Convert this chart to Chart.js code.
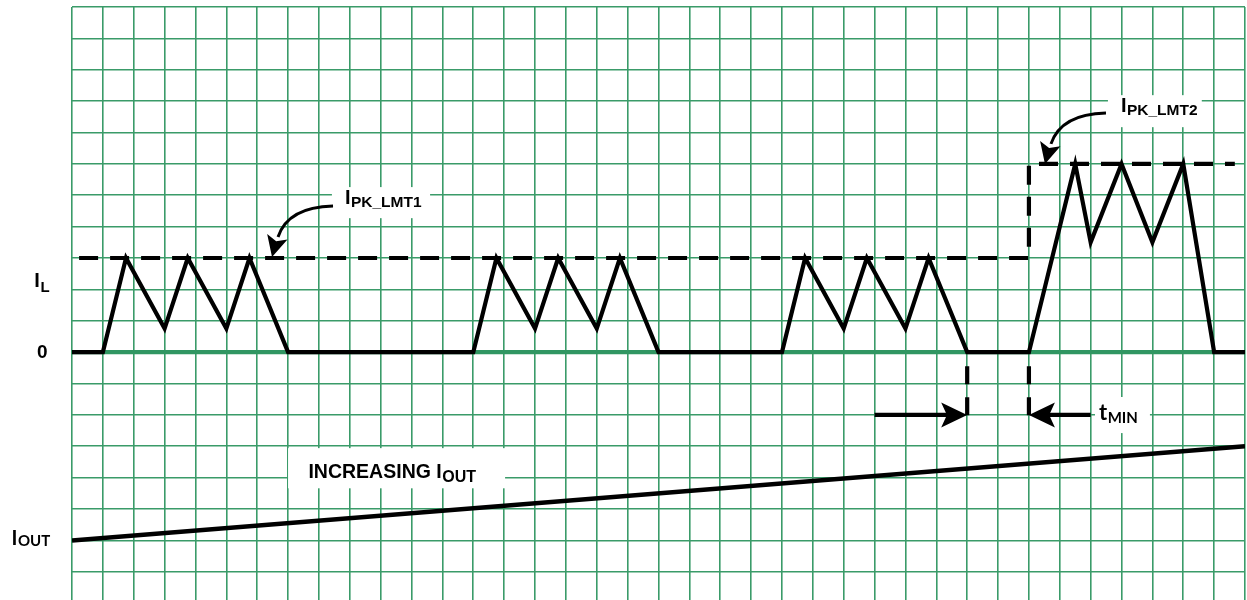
<!DOCTYPE html>
<html>
<head>
<meta charset="utf-8">
<script src="https://cdn.jsdelivr.net/npm/chart.js@4.4.1/dist/chart.umd.min.js"></script>
<style>
  html, body { margin: 0; padding: 0; background: #fff; }
  #wrap { width: 1247px; height: 600px; }
</style>
</head>
<body>
<div id="wrap"><canvas id="chart" width="1247" height="600"></canvas></div>
<script>
// Divisions de la grille (unités de grille)
const xTicks = [0, 1, 2, 3, 4, 5, 6, 7, 8, 9, 10, 11, 12, 13, 14, 15, 16, 17, 18, 19,
  20, 21, 22, 23, 24, 25, 26, 27, 28, 29, 30, 31, 32, 33, 34, 35, 36, 37, 38];
const yTicks = [-7, -6, -5, -4, -3, -2, -1, 0, 1, 2, 3, 4, 5, 6, 7, 8, 9, 10, 11];

// Courant d'inductance I_L
const iLTime = [0, 1, 1.75, 3, 3.75, 5, 5.75, 7,
  13, 13.75, 15, 15.75, 17, 17.75, 19,
  23, 23.75, 25, 25.75, 27, 27.75, 29,
  31, 32.5, 33, 34, 35, 36, 37, 38];
const iLCurrent = [0, 0, 3, 0.75, 3, 0.75, 3, 0,
  0, 3, 0.75, 3, 0.75, 3, 0,
  0, 3, 0.75, 3, 0.75, 3, 0,
  0, 6, 3.5, 6, 3.5, 6, 0, 0];

// Limites de courant crête (pointillés)
const pkLimitTime = [0.23, 31, 31, 37.67];
const pkLimitLevel = [3, 3, 6, 6];

// Ligne zéro
const zeroTime = [0, 38];
const zeroLevel = [0, 0];

// Courant de sortie I_OUT croissant
const iOutTime = [0, 38];
const iOutLevel = [-6, -3];

// Intervalle t_MIN
const tMinEdges = [29, 31];
const tMinMarkerLevel = [-0.45, -2.05];
const tMinArrowLeft = [26, 29];
const tMinArrowRight = [33, 31];
const tMinArrowLevel = -2;

const GRID_GREEN = 'rgb(58, 155, 105)';
const ZERO_GREEN = 'rgb(48, 150, 98)';
const MAIN_FONT = '"Liberation Sans", Arial, sans-serif';
const ALT_FONT = 'Lato, "Liberation Sans", sans-serif';

function zip(xs, ys) {
  return xs.map((x, i) => ({ x: x, y: ys[i] }));
}

function lineSet(data, opts) {
  return Object.assign({
    data: data,
    borderColor: '#000',
    borderWidth: 4.2,
    pointRadius: 0,
    fill: false,
    tension: 0,
    borderJoinStyle: 'miter',
    borderCapStyle: 'butt'
  }, opts);
}

// Marqueurs verticaux t_MIN (deux segments séparés par un null)
const tMinMarkers = [];
tMinEdges.forEach((x, i) => {
  if (i > 0) tMinMarkers.push({ x: x, y: null });
  tMinMarkers.push({ x: x, y: tMinMarkerLevel[0] });
  tMinMarkers.push({ x: x, y: tMinMarkerLevel[1] });
});

const tMinArrows = [
  { x: tMinArrowLeft[0], y: tMinArrowLevel },
  { x: tMinArrowLeft[1] - 0.5, y: tMinArrowLevel },
  { x: null, y: null },
  { x: tMinArrowRight[0], y: tMinArrowLevel },
  { x: tMinArrowRight[1] + 0.5, y: tMinArrowLevel }
];

// Pointe de flèche (légèrement creusée à l'arrière)
function arrowHead(ctx, tipX, tipY, angle, len, half) {
  ctx.save();
  ctx.translate(tipX, tipY);
  ctx.rotate(angle);
  ctx.beginPath();
  ctx.moveTo(0, 0);
  ctx.lineTo(-len, -half);
  ctx.lineTo(-len * 0.78, 0);
  ctx.lineTo(-len, half);
  ctx.closePath();
  ctx.fillStyle = '#000';
  ctx.fill();
  ctx.restore();
}

// Texte avec indice
function subText(ctx, main, sub, x, y, mainFont, subFont, drop) {
  ctx.font = mainFont;
  ctx.textBaseline = 'alphabetic';
  ctx.textAlign = 'left';
  ctx.fillStyle = '#000';
  ctx.fillText(main, x, y);
  const w = ctx.measureText(main).width;
  ctx.font = subFont;
  ctx.fillText(sub, x + w + 0.5, y + drop);
}

// Annotations (positions en unités de grille)
const boxes = [
  [8.42, 5.26, 11.6, 4.27],
  [33.56, 8.19, 36.6, 7.17],
  [33.14, -1.43, 34.92, -2.58],
  [7.0, -3.06, 14.03, -4.34]
];

const annotationsPlugin = {
  id: 'annotations',
  beforeDatasetsDraw(chart) {
    const ctx = chart.ctx;
    const xs = chart.scales.x, ys = chart.scales.y;
    ctx.save();
    ctx.fillStyle = '#fff';
    boxes.forEach(b => {
      const x1 = xs.getPixelForValue(b[0]), y1 = ys.getPixelForValue(b[1]);
      const x2 = xs.getPixelForValue(b[2]), y2 = ys.getPixelForValue(b[3]);
      ctx.fillRect(x1, y1, x2 - x1, y2 - y1);
    });
    ctx.restore();
  },
  afterDatasetsDraw(chart) {
    const ctx = chart.ctx;
    const xs = chart.scales.x, ys = chart.scales.y;
    const px = v => xs.getPixelForValue(v);
    const py = v => ys.getPixelForValue(v);
    ctx.save();

    // Libellés de l'axe
    subText(ctx, 'I', 'L', px(-1.22), py(2.07), 'bold 20px ' + MAIN_FONT, 'bold 15px ' + MAIN_FONT, 5);
    ctx.font = 'bold 19px ' + MAIN_FONT;
    ctx.textAlign = 'center';
    ctx.textBaseline = 'middle';
    ctx.fillText('0', px(-0.96), py(0) + 1);
    subText(ctx, 'I', 'OUT', px(-1.96), py(-6.15), 'bold 20px ' + ALT_FONT, 'bold 15px ' + ALT_FONT, 1);

    // Limites crête
    subText(ctx, 'I', 'PK_LMT1', px(8.84), py(4.72), 'bold 20px ' + MAIN_FONT, 'bold 15.5px ' + MAIN_FONT, 3);
    subText(ctx, 'I', 'PK_LMT2', px(33.98), py(7.65), 'bold 20px ' + MAIN_FONT, 'bold 15.5px ' + MAIN_FONT, 3);

    // t_MIN et I_OUT croissant
    subText(ctx, 't', 'MIN', px(33.27), py(-2.17), 'bold 22px ' + ALT_FONT, 'bold 15px ' + ALT_FONT, 3);
    subText(ctx, 'INCREASING I', 'OUT', px(7.66), py(-4.02), 'bold 19.5px ' + MAIN_FONT, 'bold 16px ' + MAIN_FONT, 4);

    // Flèches courbes vers les limites crête
    [[6.48, 3.03], [31.52, 6.0]].forEach(t => {
      const tx = px(t[0]), ty = py(t[1]);
      ctx.beginPath();
      ctx.moveTo(tx + 61, ty - 51);
      ctx.quadraticCurveTo(tx + 16, ty - 50, tx + 6, ty - 20);
      ctx.strokeStyle = '#000';
      ctx.lineWidth = 3;
      ctx.stroke();
      arrowHead(ctx, tx, ty, Math.atan2(18, -4.7), 21, 10.5);
    });

    // Flèches t_MIN
    const ay = py(tMinArrowLevel);
    arrowHead(ctx, px(tMinArrowLeft[1]), ay, 0, 26, 12.5);
    arrowHead(ctx, px(tMinArrowRight[1]), ay, Math.PI, 26, 12.5);

    ctx.restore();
  }
};

new Chart(document.getElementById('chart'), {
  type: 'line',
  data: {
    datasets: [
      lineSet(zip(iLTime, iLCurrent), { order: 1 }),
      lineSet(zip(pkLimitTime, pkLimitLevel), { order: 2, borderDash: [19, 12] }),
      lineSet(tMinMarkers, { order: 3, borderDash: [18, 13], spanGaps: false }),
      lineSet(tMinArrows, { order: 3, spanGaps: false }),
      lineSet(zip(iOutTime, iOutLevel), { order: 4, borderWidth: 4.5 }),
      lineSet(zip(zeroTime, zeroLevel), { order: 5, borderColor: ZERO_GREEN })
    ]
  },
  options: {
    responsive: false,
    animation: false,
    layout: { padding: { left: 72, top: 7, right: 2, bottom: 0 } },
    plugins: {
      legend: { display: false },
      tooltip: { enabled: false }
    },
    scales: {
      x: {
        type: 'linear',
        min: 0,
        max: 38,
        afterBuildTicks: scale => { scale.ticks = xTicks.map(v => ({ value: v })); },
        ticks: { display: false },
        grid: { color: GRID_GREEN, lineWidth: 1.6, drawTicks: false },
        border: { display: false }
      },
      y: {
        type: 'linear',
        min: -7.9,
        max: 11,
        afterBuildTicks: scale => { scale.ticks = yTicks.map(v => ({ value: v })); },
        ticks: { display: false },
        grid: { color: GRID_GREEN, lineWidth: 1.6, drawTicks: false },
        border: { display: false }
      }
    }
  },
  plugins: [annotationsPlugin]
});
</script>
</body>
</html>
